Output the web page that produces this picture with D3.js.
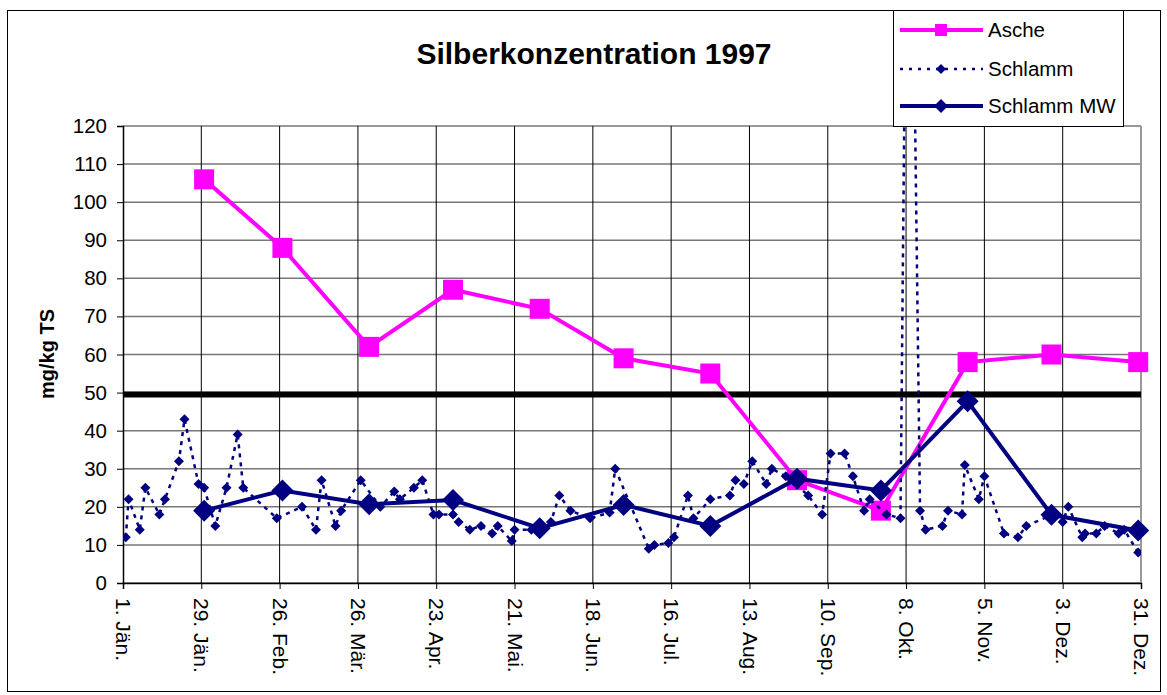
<!DOCTYPE html>
<html><head><meta charset="utf-8">
<script src="https://cdn.jsdelivr.net/npm/d3@7"></script>
<style>body{margin:0;background:#fff}svg{display:block}text{font-family:Arial,"Liberation Sans",sans-serif}</style>
</head><body>
<svg id="c" width="1167" height="695"></svg>
<script>
const title = "Silberkonzentration 1997";
const yTitle = "mg/kg TS";
const tickLabels = ["1. Jän.","29. Jän.","26. Feb.","26. Mär.","23. Apr.","21. Mai.","18. Jun.","16. Jul.","13. Aug.","10. Sep.","8. Okt.","5. Nov.","3. Dez.","31. Dez."];
const tickDays = [0,28,56,84,112,140,168,196,224,252,280,308,336,364];
const yTicks = [0,10,20,30,40,50,60,70,80,90,100,110,120];
const seriesNames = ["Asche","Schlamm","Schlamm MW"];
// monthly samples (day of year, 0 = 1. Jän.)
const monthlyDays = [29,57,88,118,149,179,210,241,271,302,332,363];
const ascheValues = [106,88,62,77,72,59,55,27,19,58,60,58];
const schlammMWValues = [19,24.3,20.7,21.8,14.4,20.5,15,27.4,24.3,47.7,17.9,13.8];
// individual sludge samples
const schlammDays = [1,2,6,8,13,15,20,22,27,29,33,37,41,43,55,64,69,71,76,78,85,92,97,99,104,107,111,113,118,120,124,128,132,134,139,140,146,153,156,160,167,174,176,188,190,195,197,202,204,210,217,219,222,225,230,232,237,245,250,253,258,261,265,267,273,278,281,285,287,293,295,300,301,306,308,315,320,323,331,336,338,343,344,348,351,356,358,363];
const schlammValues = [12,22,14,25,18,22,32,43,26,25,15,25,39,25,17,20,14,27,15,19,27,20,24,22,25,27,18,18,18,16,14,15,13,15,11,14,14,16,23,19,17,18.5,30,9,10,10.5,12,23,17,22,23,27,26,32,26,30,28,23,18,34,34,28,19,22,18,17,250,19,14,15,19,18,31,22,28,13,12,15,17.5,16,20,12,13,13,15,13,14,8];
const limitValue = 49.5;

const svg = d3.select("#c");
const X0 = 123, X1 = 1141, Y0 = 583, Y1 = 126;
const base = Date.UTC(1997,0,1);
const dayDate = d => new Date(base + d*86400000);
const x = d3.scaleTime().domain([dayDate(0), dayDate(364)]).range([X0, X1]);
const y = d3.scaleLinear().domain([0,120]).range([Y0, Y1]);
const navy = "#000080", pink = "#ff00ff";

// outer border
svg.append("rect").attr("x",7.5).attr("y",10.5).attr("width",1153).attr("height",681).attr("fill","#fff").attr("stroke","#000").attr("stroke-width",1);

// horizontal gridlines
svg.append("g").selectAll("line").data(yTicks).join("line")
  .attr("x1",X0).attr("x2",X1).attr("y1",d=>y(d)).attr("y2",d=>y(d))
  .attr("stroke","#777").attr("stroke-width",1.5);
// vertical gridlines
svg.append("g").selectAll("line").data(tickDays.slice(1,-1)).join("line")
  .attr("x1",d=>x(dayDate(d))).attr("x2",d=>x(dayDate(d))).attr("y1",Y1).attr("y2",Y0)
  .attr("stroke","#000").attr("stroke-width",1);
// right border
svg.append("line").attr("x1",X1).attr("x2",X1).attr("y1",Y1).attr("y2",Y0).attr("stroke","#999").attr("stroke-width",2);

// axes
const yAxis = d3.axisLeft(y).tickValues(yTicks).tickSize(6).tickPadding(10);
const gy = svg.append("g").attr("transform",`translate(${X0},0)`).call(yAxis);
gy.select(".domain").attr("stroke","#000").attr("stroke-width",1.5);
gy.selectAll("text").attr("font-size",20.5).attr("fill","#000");

const xAxis = d3.axisBottom(x).tickValues(tickDays.map(dayDate)).tickSize(6).tickFormat((d,i)=>tickLabels[i]);
const gx = svg.append("g").attr("transform",`translate(0,${Y0})`).call(xAxis);
gx.select(".domain").attr("stroke","#000").attr("stroke-width",1.5);
gx.selectAll("text").attr("font-size",21).attr("fill","#000")
  .attr("transform","rotate(90)").attr("text-anchor","start").attr("x",15).attr("y",0).attr("dy","0.35em");

// clip
svg.append("clipPath").attr("id","plot").append("rect").attr("x",X0).attr("y",Y1).attr("width",X1-X0).attr("height",Y0-Y1);

// limit line
svg.append("line").attr("x1",X0).attr("x2",X1).attr("y1",y(limitValue)).attr("y2",y(limitValue)).attr("stroke","#000").attr("stroke-width",6);

const diamond = s => `M0,${-s}L${s},0L0,${s}L${-s},0Z`;

// Asche
const asche = monthlyDays.map((d,i)=>({d,v:ascheValues[i]}));
const line = d3.line().x(p=>x(dayDate(p.d))).y(p=>y(p.v));
svg.append("path").attr("d",line(asche)).attr("fill","none").attr("stroke",pink).attr("stroke-width",4).attr("clip-path","url(#plot)");
svg.append("g").selectAll("rect").data(asche).join("rect")
  .attr("x",p=>x(dayDate(p.d))-10).attr("y",p=>y(p.v)-10).attr("width",20).attr("height",20).attr("fill",pink);

// Schlamm
const schl = schlammDays.map((d,i)=>({d,v:schlammValues[i]}));
const gs = svg.append("g").attr("clip-path","url(#plot)");
gs.append("path").attr("d",line(schl)).attr("fill","none").attr("stroke",navy).attr("stroke-width",2.5).attr("stroke-dasharray","4,5");
gs.selectAll("path.m").data(schl).join("path").attr("class","m")
  .attr("d",diamond(5)).attr("transform",p=>`translate(${x(dayDate(p.d))},${y(p.v)})`).attr("fill",navy);

// Schlamm MW
const mw = monthlyDays.map((d,i)=>({d,v:schlammMWValues[i]}));
svg.append("path").attr("d",line(mw)).attr("fill","none").attr("stroke",navy).attr("stroke-width",4);
svg.append("g").selectAll("path").data(mw).join("path")
  .attr("d",diamond(11)).attr("transform",p=>`translate(${x(dayDate(p.d))},${y(p.v)})`).attr("fill",navy);

// title
svg.append("text").attr("x",594).attr("y",64).attr("text-anchor","middle").attr("font-size",30).attr("font-weight","bold").text(title);
svg.append("text").attr("transform","translate(54,354) rotate(-90)").attr("text-anchor","middle").attr("font-size",20).attr("font-weight","bold").text(yTitle);

// legend
const lg = svg.append("g");
lg.append("rect").attr("x",893.5).attr("y",10.5).attr("width",230).attr("height",116).attr("fill","#fff").attr("stroke","#000");
const ly = [30,69,106];
// Asche
lg.append("line").attr("x1",900).attr("x2",983).attr("y1",ly[0]).attr("y2",ly[0]).attr("stroke",pink).attr("stroke-width",4);
lg.append("rect").attr("x",935).attr("y",ly[0]-6).attr("width",12).attr("height",12).attr("fill",pink);
// Schlamm
lg.append("line").attr("x1",900).attr("x2",983).attr("y1",ly[1]).attr("y2",ly[1]).attr("stroke",navy).attr("stroke-width",2.5).attr("stroke-dasharray","3,6");
lg.append("path").attr("d",diamond(5)).attr("transform",`translate(941,${ly[1]})`).attr("fill",navy);
// MW
lg.append("line").attr("x1",900).attr("x2",983).attr("y1",ly[2]).attr("y2",ly[2]).attr("stroke",navy).attr("stroke-width",4);
lg.append("path").attr("d",diamond(7)).attr("transform",`translate(941,${ly[2]})`).attr("fill",navy);
lg.selectAll("text").data(seriesNames).join("text").attr("x",988).attr("y",(d,i)=>ly[i]).attr("dy","0.35em").attr("font-size",20.5).text(d=>d);
</script>
</body></html>
